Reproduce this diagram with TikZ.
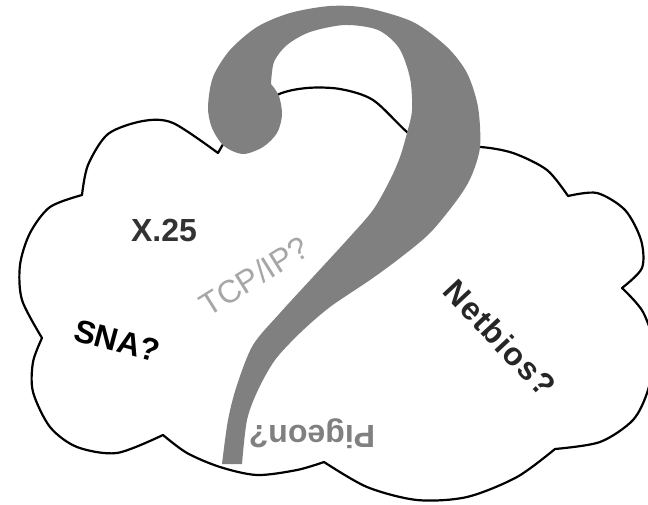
\documentclass[tikz,border=0pt]{standalone}
\usepackage{fontspec}
\setmainfont{Liberation Sans}

\begin{document}
\begin{tikzpicture}[x=1pt,y=-1pt,
    cloudline/.style={line width=2.2pt, line join=round},
    qmark/.style={fill=black!50},
    proto/.style={font=\fontsize{32}{32}\selectfont\bfseries, inner sep=0pt}]
   \useasboundingbox (0,0) rectangle (648,505);

   % the cloud, one bump at a time
   \draw[cloudline]
        plot[smooth] coordinates {(218,153) (173,123) (143,121) (108,134) (88,165) (82,195)}
     -- plot[smooth] coordinates {(82,195) (50,207) (30,233) (20,265) (22,300) (42,338)}
     -- plot[smooth] coordinates {(42,338) (33,362) (33,392) (50,427) (77,447) (117,453) (163,435)}
     -- plot[smooth] coordinates {(163,435) (187,453) (220,467) (257,475) (297,470) (324,462)}
     -- plot[smooth] coordinates {(324,462) (367,487) (417,500) (467,497) (517,477) (555,449)}
     -- plot[smooth] coordinates {(555,449) (600,442) (633,420) (648,390) (655,350) (643,312) (622,288)}
     -- plot[smooth] coordinates {(622,288) (642,268) (641,240) (625,210) (597,193) (568,196)}
     -- plot[smooth] coordinates {(568,196) (547,170) (513,153) (480,147) (455,150) (440,157)}
     -- plot[smooth] coordinates {(440,157) (407,132) (373,100) (340,89) (307,88) (277,95) (240,120) (218,153)}
     -- cycle;

   % the big question mark on top
   \fill[qmark]
        plot[smooth] coordinates {(242,464) (247,420) (258,390) (275,360) (300,333) (330,307)
            (370,280) (400,258) (430,233) (457,200) (471,177) (480,147) (478,107) (467,73)
            (447,47) (413,22) (367,8) (330,6) (290,13) (257,27) (230,50) (213,77) (208,107)
            (212,128) (224,146) (243,154) (263,147) (277,133) (282,115) (279,96) (271,84)}
     -- plot[smooth] coordinates {(271,84) (274,62) (287,45) (310,32) (345,25) (378,30)
            (399,48) (410,78) (412,110) (407,133) (400,157) (390,180) (373,210) (347,240)
            (313,277) (280,313) (253,345) (237,385) (228,420) (222,464)}
     -- cycle;

   \node[proto, text=black!80] (x25) at (164,230) {X.25};
   \node[proto, rotate=-15] (sna) at (117,341) {SNA?};
   \node[proto, font=\fontsize{32}{32}\selectfont, text=black!35, rotate=32] (tcpip) at (254,276) {TCP/IP?};
   \node[proto, text=black!85, rotate=-47] (netbios) at (500,338) {\addfontfeature{LetterSpace=4}Netbios?};
   \node[proto, text=black!50, rotate=180] (pigeon) at (312,434) {Pigeon?};
\end{tikzpicture}
\end{document}
